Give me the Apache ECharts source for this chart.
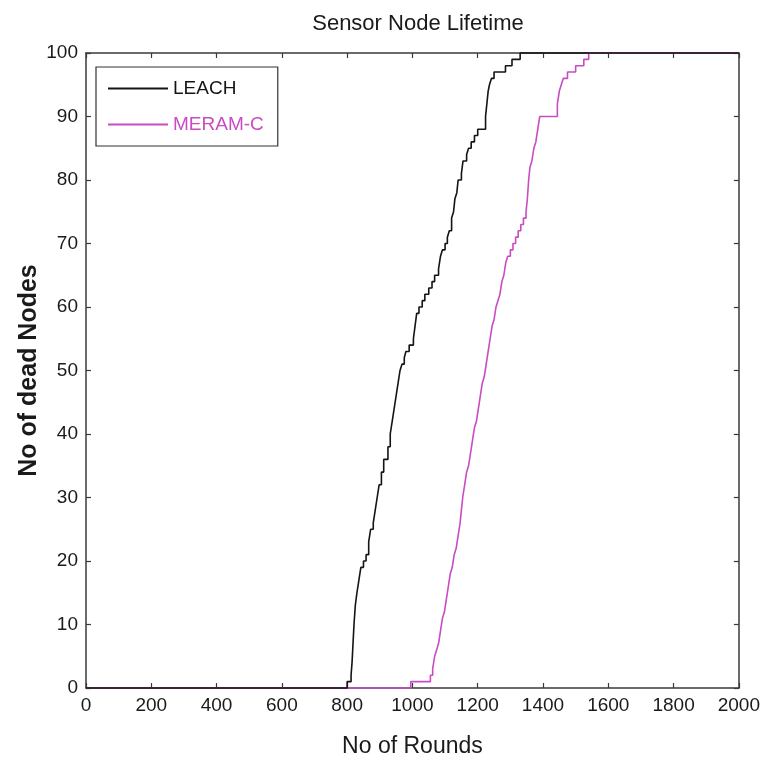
<!DOCTYPE html>
<html>
<head>
<meta charset="utf-8">
<script src="https://cdn.jsdelivr.net/npm/echarts@6/dist/echarts.min.js"></script>
<style>
  html, body { margin: 0; padding: 0; background: #fff; }
  #chart { width: 763px; height: 763px; }
</style>
</head>
<body>
<div id="chart"></div>
<script>
// Cumulative count of dead sensor nodes per protocol, as [round, deadNodes]
// pairs; each pair marks the round at which the count steps up to that value.
const leachDead = [
  [0, 0], [800, 1], [812, 2], [815, 4], [818, 7], [821, 10], [825, 13], [830, 15],
  [836, 17], [842, 19], [850, 20], [858, 21], [866, 23], [872, 25], [880, 26],
  [886, 28], [892, 30], [898, 32], [905, 34], [912, 36], [925, 38], [932, 40],
  [938, 42], [944, 44], [950, 46], [956, 48], [962, 50], [968, 51], [975, 52],
  [980, 53], [990, 54], [1003, 55], [1008, 57], [1013, 59], [1020, 60], [1030, 61],
  [1038, 62], [1050, 63], [1060, 64], [1068, 65], [1080, 66], [1086, 68], [1092, 69],
  [1100, 70], [1107, 71], [1113, 72], [1120, 74], [1126, 75], [1130, 77], [1136, 78],
  [1140, 80], [1150, 81], [1155, 83], [1166, 84], [1172, 85], [1180, 86], [1190, 87],
  [1200, 88], [1224, 90], [1228, 92], [1232, 94], [1236, 95], [1242, 96], [1250, 97],
  [1285, 98], [1305, 99], [1330, 100], [2000, 100]
];
const meramDead = [
  [0, 0], [995, 1], [1055, 2], [1062, 3], [1068, 5], [1074, 6], [1080, 7], [1086, 9],
  [1092, 11], [1098, 12], [1104, 14], [1110, 16], [1116, 18], [1122, 19], [1128, 21],
  [1134, 22], [1140, 24], [1146, 26], [1150, 28], [1154, 30], [1160, 32], [1166, 34],
  [1172, 35], [1178, 37], [1184, 39], [1190, 41], [1196, 42], [1202, 44], [1208, 46],
  [1214, 48], [1220, 49], [1226, 51], [1232, 53], [1238, 55], [1244, 57], [1250, 58],
  [1256, 60], [1262, 61], [1268, 62], [1274, 64], [1280, 65], [1286, 67], [1292, 68],
  [1300, 69], [1308, 70], [1316, 71], [1324, 72], [1332, 73], [1340, 74], [1348, 75],
  [1352, 77], [1356, 80], [1360, 82], [1366, 83], [1372, 85], [1378, 86], [1384, 88],
  [1390, 90], [1444, 92], [1450, 94], [1456, 95], [1462, 96], [1475, 97], [1500, 98],
  [1525, 99], [1540, 100], [2000, 100]
];
const seriesNames = ['LEACH', 'MERAM-C'];
const xTicks = { min: 0, max: 2000, interval: 200 };
const yTicks = { min: 0, max: 100, interval: 10 };

const FONT = "'Liberation Sans Narrow', 'Arial Narrow', 'Liberation Sans', Arial, sans-serif";
const AXIS_COLOR = '#3a3a3a';
const TEXT_COLOR = '#1a1a1a';
const BLACK = '#141414';
const MAGENTA = '#c84cc2';

const tickStyle = { show: true, inside: true, length: 5, lineStyle: { color: AXIS_COLOR, width: 1.2 } };
const lineStyle = { show: true, onZero: false, lineStyle: { color: AXIS_COLOR, width: 1.5 } };
const plainNumber = (v) => String(v);

const chart = echarts.init(document.getElementById('chart'), null, { renderer: 'canvas' });
chart.setOption({
  animation: false,
  backgroundColor: '#ffffff',
  title: {
    text: 'Sensor Node Lifetime',
    left: 413, top: 8, textAlign: 'center',
    textStyle: { fontFamily: FONT, fontSize: 22, fontWeight: 'normal', color: TEXT_COLOR }
  },
  legend: {
    orient: 'vertical',
    left: 96, top: 67,
    padding: [12, 14, 12, 12],
    itemGap: 17,
    itemWidth: 60, itemHeight: 14,
    borderColor: '#333', borderWidth: 1.2,
    backgroundColor: '#fff',
    icon: 'path://M0,6 L60,6 L60,8 L0,8 Z',
    data: [
      { name: seriesNames[0], textStyle: { color: BLACK } },
      { name: seriesNames[1], textStyle: { color: MAGENTA } }
    ],
    textStyle: { fontFamily: FONT, fontSize: 19 }
  },
  grid: { left: 86, right: 21, top: 53, bottom: 75 },
  xAxis: [
    {
      type: 'value', position: 'bottom',
      min: xTicks.min, max: xTicks.max, interval: xTicks.interval,
      name: 'No of Rounds', nameLocation: 'middle', nameGap: 47,
      nameTextStyle: { fontFamily: FONT, fontSize: 23, color: TEXT_COLOR },
      axisLine: lineStyle, axisTick: tickStyle,
      axisLabel: { fontFamily: FONT, fontSize: 19, color: TEXT_COLOR, margin: 8, formatter: plainNumber },
      splitLine: { show: false }
    },
    {
      type: 'value', position: 'top',
      min: xTicks.min, max: xTicks.max, interval: xTicks.interval,
      axisLine: lineStyle, axisTick: tickStyle,
      axisLabel: { show: false }, splitLine: { show: false }
    }
  ],
  yAxis: [
    {
      type: 'value', position: 'left',
      min: yTicks.min, max: yTicks.max, interval: yTicks.interval,
      name: 'No of dead Nodes', nameLocation: 'middle', nameGap: 44,
      nameMoveOverlap: false,
      nameTextStyle: { fontFamily: FONT, fontSize: 25, fontWeight: 'bold', color: TEXT_COLOR },
      axisLine: lineStyle, axisTick: tickStyle,
      axisLabel: { fontFamily: FONT, fontSize: 19, color: TEXT_COLOR, margin: 8 },
      splitLine: { show: false }
    },
    {
      type: 'value', position: 'right',
      min: yTicks.min, max: yTicks.max, interval: yTicks.interval,
      axisLine: lineStyle, axisTick: tickStyle,
      axisLabel: { show: false }, splitLine: { show: false }
    }
  ],
  series: [
    {
      name: seriesNames[0], type: 'line', step: 'end', data: leachDead,
      showSymbol: false, clip: false, z: 4,
      itemStyle: { color: BLACK },
      lineStyle: { color: BLACK, width: 1.6 }
    },
    {
      name: seriesNames[1], type: 'line', step: 'end', data: meramDead,
      showSymbol: false, clip: false, z: 3,
      itemStyle: { color: MAGENTA },
      lineStyle: { color: MAGENTA, width: 1.6 }
    }
  ]
});
</script>
</body>
</html>
